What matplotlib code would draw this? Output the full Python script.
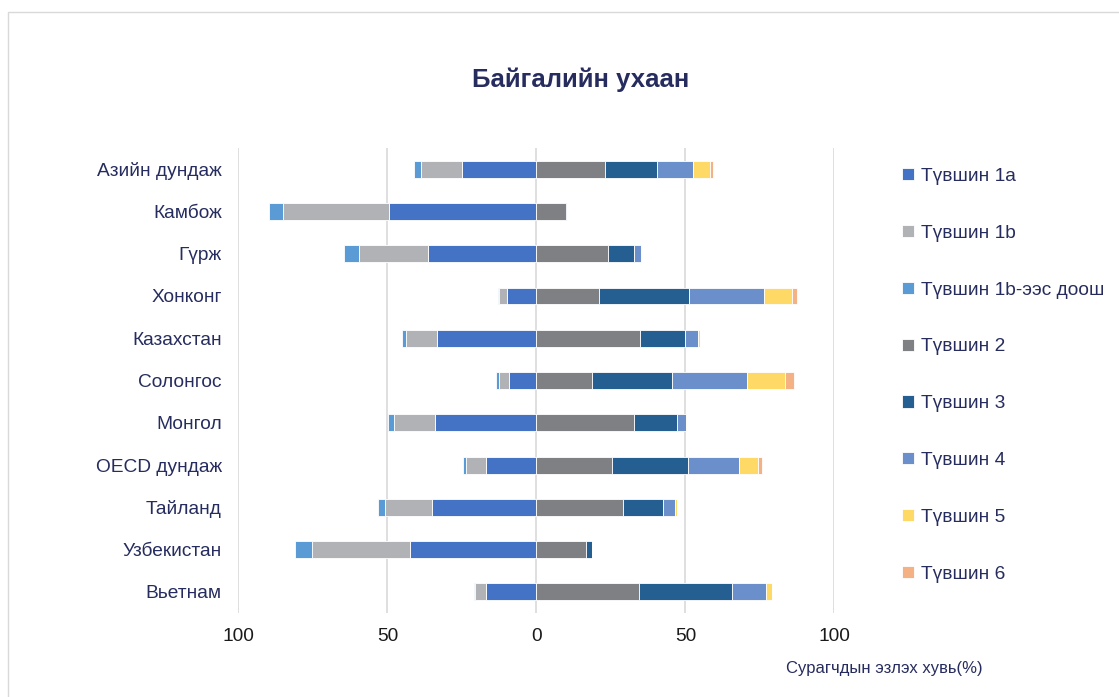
import matplotlib.pyplot as plt
import numpy as np
from matplotlib.patches import Rectangle

plt.rcParams['font.family'] = ['Liberation Sans', 'DejaVu Sans']

# countries, top to bottom
countries = ['Азийн дундаж', 'Камбож', 'Гүрж', 'Хонконг', 'Казахстан', 'Солонгос',
             'Монгол', 'OECD дундаж', 'Тайланд', 'Узбекистан', 'Вьетнам']

# levels below 2 (drawn to the left)
lvl_1a = [25.1, 49.5, 36.3, 9.9, 33.4, 9.3, 34.2, 17.0, 35.2, 42.6, 17.0]
lvl_1b = [13.6, 35.7, 23.3, 2.8, 10.5, 3.4, 13.7, 6.7, 15.6, 32.6, 3.7]
lvl_below = [2.3, 4.5, 5.1, 0.3, 1.2, 0.9, 1.9, 0.9, 2.3, 5.9, 0.4]

# levels 2 and up (drawn to the right)
lvl_2 = [22.9, 9.9, 24.0, 20.9, 34.6, 18.6, 32.6, 25.2, 28.9, 16.6, 34.5]
lvl_3 = [17.5, 0.4, 8.8, 30.2, 15.3, 26.8, 14.5, 25.6, 13.7, 2.1, 31.1]
lvl_4 = [12.2, 0.1, 2.3, 25.3, 4.2, 25.2, 3.1, 17.2, 3.9, 0.0, 11.5]
lvl_5 = [5.6, 0.0, 0.3, 9.5, 0.9, 12.9, 0.3, 6.4, 0.5, 0.0, 1.8]
lvl_6 = [1.0, 0.0, 0.0, 1.4, 0.0, 2.9, 0.0, 1.2, 0.0, 0.0, 0.2]

labels = ['Түвшин 1a', 'Түвшин 1b', 'Түвшин 1b-ээс доош', 'Түвшин 2',
          'Түвшин 3', 'Түвшин 4', 'Түвшин 5', 'Түвшин 6']
colors = ['#4472C4', '#B1B2B5', '#5B9BD5', '#7F8083',
          '#255E91', '#6B8FCB', '#FFD966', '#F4B183']

navy = '#262C5E'
fs = 13.8

fig = plt.figure(figsize=(11.19, 6.97), dpi=100)
fig.patches.append(Rectangle((0.007, -0.01), 1.0, 0.993, transform=fig.transFigure,
                             fill=False, edgecolor='#D9D9D9', lw=1))

ax = fig.add_axes([0.2131, 0.1205, 0.5326, 0.6671])
y = np.arange(len(countries))
h = 0.4

handles = {}
# left side
left = np.zeros(len(countries))
for vals, lab, col in zip([lvl_1a, lvl_1b, lvl_below], labels[:3], colors[:3]):
    v = np.array(vals)
    handles[lab] = ax.barh(y, -v, left=-left, height=h, color=col,
                           edgecolor='white', linewidth=0.6, zorder=3)
    left = left + v

# right side
right = np.zeros(len(countries))
for vals, lab, col in zip([lvl_2, lvl_3, lvl_4, lvl_5, lvl_6], labels[3:], colors[3:]):
    v = np.array(vals)
    handles[lab] = ax.barh(y, v, left=right, height=h, color=col,
                           edgecolor='white', linewidth=0.6, zorder=3)
    right = right + v

ax.set_xlim(-100, 100)
ax.set_ylim(len(countries) - 0.5, -0.5)
ax.set_xticks([-100, -50, 0, 50, 100])
ax.set_xticklabels(['100', '50', '0', '50', '100'], fontsize=fs, color='#1A1A1A')
ax.set_yticks(y)
ax.set_yticklabels(countries, fontsize=fs, color=navy)
ax.tick_params(length=0)
ax.tick_params(axis='x', pad=11)
ax.tick_params(axis='y', pad=12)
ax.grid(axis='x', color='#D9D9D9', lw=1.2, zorder=0)
for s in ax.spines.values():
    s.set_visible(False)

fig.text(0.519, 0.885, 'Байгалийн ухаан', ha='center', va='center',
         fontsize=18.5, fontweight='bold', color=navy)
fig.text(0.790, 0.0416, 'Сурагчдын эзлэх хувь(%)', ha='center', va='center',
         fontsize=12, color=navy)

leg = fig.legend([handles[l] for l in labels], labels, loc='upper left',
                 bbox_to_anchor=(0.791, 0.784), frameon=False, fontsize=fs,
                 labelspacing=2.08, handlelength=0.6, handleheight=0.6,
                 handletextpad=0.35, labelcolor=navy)

fig.savefig('out.png', dpi=100)
